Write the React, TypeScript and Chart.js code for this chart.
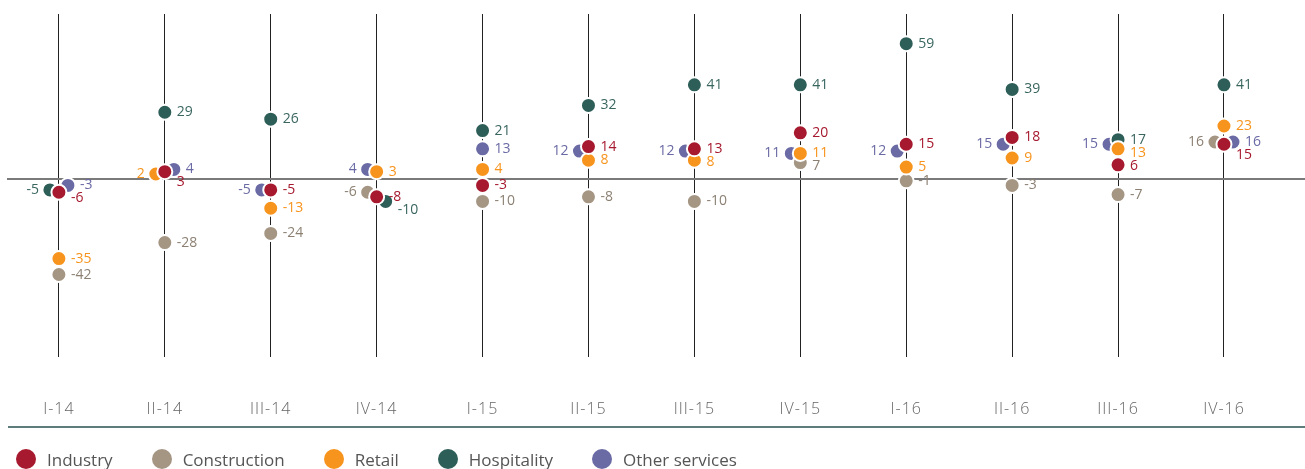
import React, { useEffect, useRef } from 'react';
import { Chart, registerables } from 'chart.js';

Chart.register(...registerables);

// ---- data ----
const categories = ['I-14', 'II-14', 'III-14', 'IV-14', 'I-15', 'II-15', 'III-15', 'IV-15', 'I-16', 'II-16', 'III-16', 'IV-16'];
const industry = [-6, 3, -5, -8, -3, 14, 13, 20, 15, 18, 6, 15];
const construction = [-42, -28, -24, -6, -10, -8, -10, 7, -1, -3, -7, 16];
const retail = [-35, 2, -13, 3, 4, 8, 8, 11, 5, 9, 13, 23];
const hospitality = [-5, 29, 26, -10, 21, 32, 41, 41, 59, 39, 17, 41];
const otherServices = [-3, 4, -5, 4, 13, 12, 12, 11, 12, 15, 15, 16];

const seriesNames = ['Industry', 'Construction', 'Retail', 'Hospitality', 'Other services'];
const seriesValues = [industry, construction, retail, hospitality, otherServices];

// ---- styles ----
const seriesColors = ['#a6192e', '#a59684', '#f7941d', '#2e5e58', '#6a6aa5'];
const labelColors = ['#a6192e', '#8c8073', '#f7941d', '#3a6660', '#6a6aa5'];
const layerOrder = [0, 2, 1, 3, 4]; // lower = drawn on top
const dodgeOrder = [0, 2, 1, 3, 4]; // series placement priority
const DODGE_GAP = 9; // px vertical distance under which points collide
const DODGE_SHIFT = 9; // px horizontal shift
const LABEL_GAP = 13;
const FONT = "'Open Sans', 'DejaVu Sans', sans-serif";

const dodgePlugin = {
  id: 'dodge',
  afterDatasetsUpdate(chart: any) {
    const xs = chart.scales.x;
    for (let i = 0; i < categories.length; i++) {
      const placed: number[] = [];
      let shifts = 0;
      const base = xs.getPixelForValue(i);
      for (const s of dodgeOrder) {
        const el: any = chart.getDatasetMeta(s).data[i];
        if (!el) continue;
        el.x = base;
        el.$side = 0;
        const hit = placed.some((py) => Math.abs(py - el.y) < DODGE_GAP);
        if (hit) {
          const dir = shifts % 2 === 0 ? -1 : 1;
          el.x = base + dir * DODGE_SHIFT;
          el.$side = dir;
          shifts++;
        } else {
          placed.push(el.y);
        }
      }
    }
  },
};

const spacingPlugin = {
  id: 'tickSpacing',
  beforeDraw(chart: any) {
    chart.ctx.letterSpacing = '1px';
  },
  beforeDatasetsDraw(chart: any) {
    chart.ctx.letterSpacing = '0px';
  },
};

const labelPlugin = {
  id: 'pointLabels',
  afterDatasetsDraw(chart: any) {
    const ctx = chart.ctx;
    ctx.save();
    ctx.letterSpacing = '0px';
    ctx.font = `14px ${FONT}`;
    ctx.textBaseline = 'middle';
    for (let i = 0; i < categories.length; i++) {
      const items: any[] = [];
      seriesValues.forEach((vals, s) => {
        const el: any = chart.getDatasetMeta(s).data[i];
        if (!el) return;
        items.push({ s, x: el.x, y: el.y, side: el.$side < 0 ? -1 : 1, text: String(vals[i]) });
      });
      for (const side of [-1, 1]) {
        const group = items.filter((it) => it.side === side).sort((a, b) => a.y - b.y);
        for (let k = 1; k < group.length; k++) {
          if (group[k].y - group[k - 1].y < LABEL_GAP) group[k].y = group[k - 1].y + LABEL_GAP;
        }
      }
      for (const it of items) {
        ctx.fillStyle = labelColors[it.s];
        if (it.side < 0) {
          ctx.textAlign = 'right';
          ctx.fillText(it.text, it.x - 11, it.y);
        } else {
          ctx.textAlign = 'left';
          ctx.fillText(it.text, it.x + 12, it.y);
        }
      }
    }
    ctx.restore();
  },
};

export default function App() {
  const canvasRef = useRef<HTMLCanvasElement | null>(null);

  useEffect(() => {
    if (!canvasRef.current) return;
    const chart = new Chart(canvasRef.current, {
      type: 'scatter',
      data: {
        datasets: seriesNames.map((name, s) => ({
          label: name,
          data: seriesValues[s].map((v, i) => ({ x: i, y: v })),
          backgroundColor: seriesColors[s],
          borderColor: '#ffffff',
          borderWidth: 2,
          pointRadius: 7.5,
          pointHoverRadius: 7.5,
          order: layerOrder[s],
        })),
      },
      options: {
        animation: false,
        responsive: true,
        maintainAspectRatio: false,
        events: [],
        layout: { autoPadding: false, padding: { left: 7, top: 14, right: 0, bottom: 0 } },
        plugins: { legend: { display: false }, tooltip: { enabled: false } },
        scales: {
          x: {
            type: 'linear',
            min: -0.49,
            max: 11.765,
            border: { display: false },
            grid: { color: '#222222', lineWidth: 1, drawTicks: false },
            afterFit: (s: any) => {
              s.paddingLeft = 0;
              s.paddingRight = 0;
            },
            ticks: {
              stepSize: 1,
              maxTicksLimit: 30,
              includeBounds: false,
              autoSkip: false,
              maxRotation: 0,
              padding: 43,
              color: '#666666',
              font: { family: FONT, size: 16, weight: '300' },
              callback: (v: any) => (Number.isInteger(v) ? categories[v] ?? '' : ''),
            },
          },
          y: {
            min: -78,
            max: 72,
            border: { display: false },
            afterFit: (s: any) => {
              s.width = 0;
            },
            grid: {
              drawTicks: false,
              color: (c: any) => (c.tick && c.tick.value === 0 ? '#7a7a7a' : 'rgba(0,0,0,0)'),
              lineWidth: (c: any) => (c.tick && c.tick.value === 0 ? 2 : 0),
            },
            ticks: { display: false, stepSize: 1, maxTicksLimit: 400 },
          },
        },
      },
      plugins: [spacingPlugin, dodgePlugin, labelPlugin],
    });
    return () => chart.destroy();
  }, []);

  return (
    <div style={{ position: 'absolute', left: 0, top: 0, width: 1305, height: 469, overflow: 'hidden', background: '#fff' }}>
      <div style={{ position: 'absolute', left: 0, top: 0, width: 1305, height: 462 }}>
        <canvas ref={canvasRef} />
      </div>
      <div style={{ position: 'absolute', left: 8, top: 426, width: 1297, height: 2, background: '#5e7c7a' }} />
      <div
        style={{
          position: 'absolute',
          left: 16,
          top: 449,
          height: 20,
          display: 'flex',
          alignItems: 'center',
          gap: 39,
          fontFamily: FONT,
          fontSize: 17,
          color: '#555555',
          whiteSpace: 'nowrap',
        }}
      >
        {seriesNames.map((name, s) => (
          <div key={name} style={{ display: 'flex', alignItems: 'center' }}>
            <span
              style={{
                display: 'inline-block',
                width: 20,
                height: 20,
                borderRadius: '50%',
                background: seriesColors[s],
                marginRight: 11,
              }}
            />
            <span>{name}</span>
          </div>
        ))}
      </div>
    </div>
  );
}
